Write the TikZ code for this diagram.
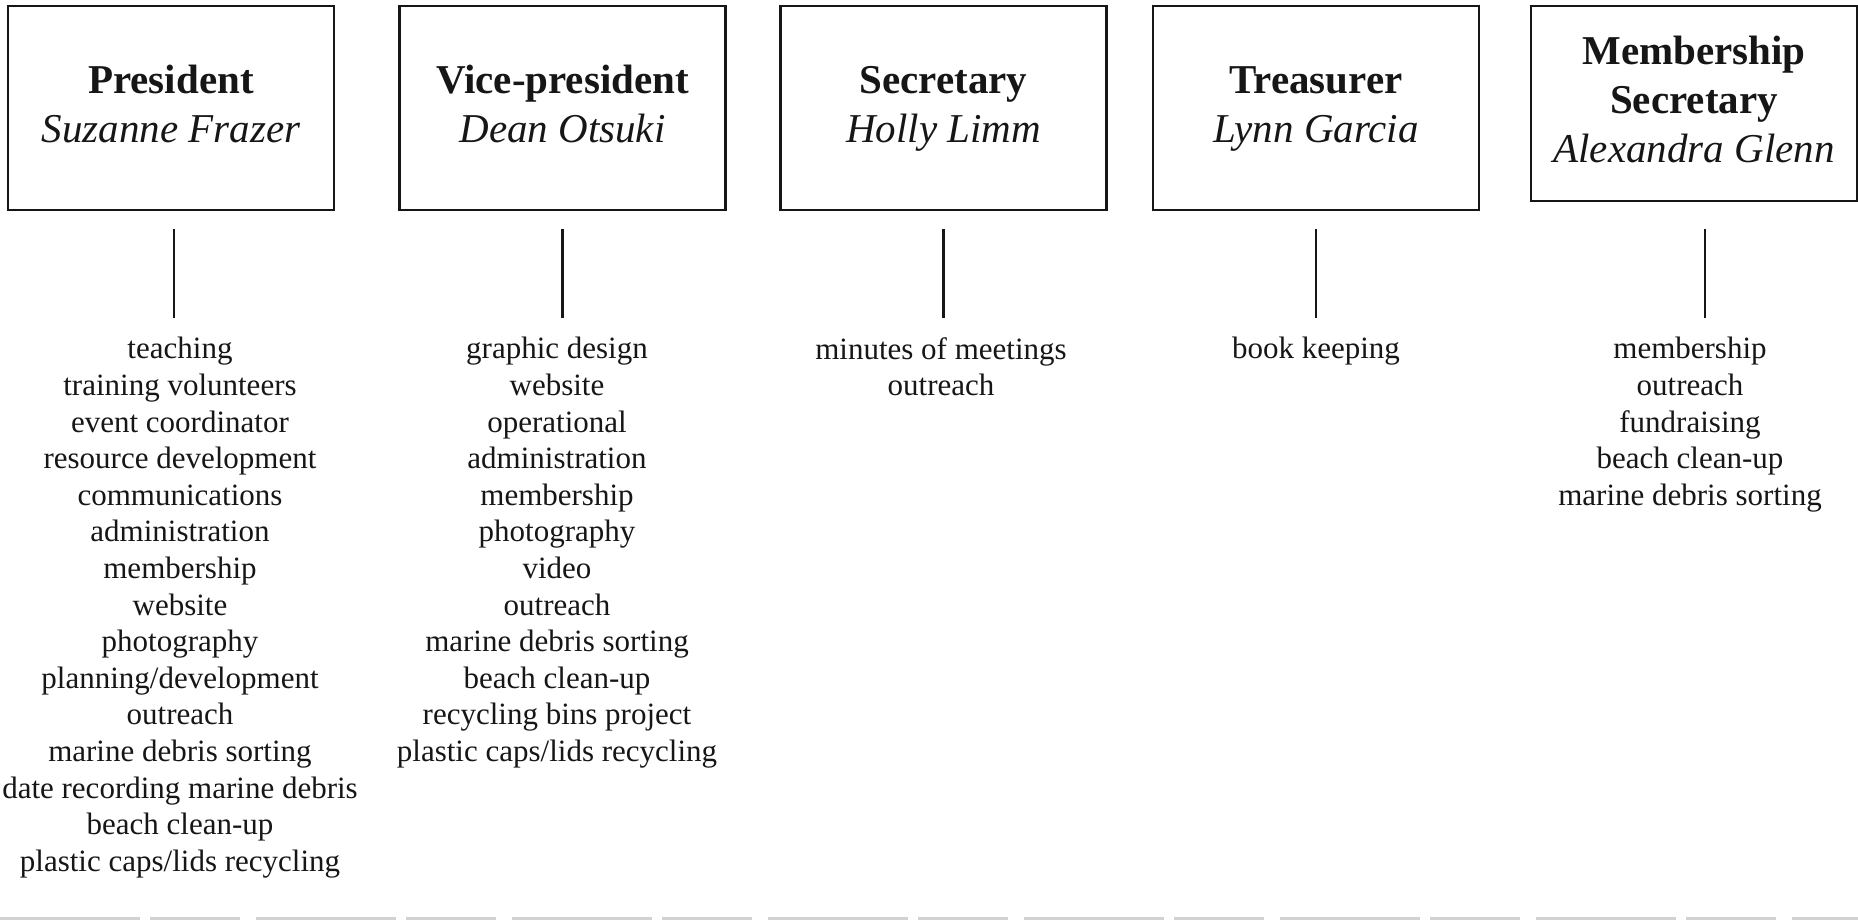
\documentclass[tikz,border=0pt]{standalone}
\usepackage{fontspec}
\setmainfont{Liberation Serif}
\definecolor{ink}{HTML}{161616}
\tikzset{
  officer/.style={draw=ink, line width=1.3pt, minimum width=163pt, minimum height=102pt,
    align=center, inner sep=0pt, text=ink, font=\fontsize{20.5}{24.5}\selectfont},
  duties/.style={anchor=north, align=center, inner sep=0pt, text=ink,
    font=\fontsize{15.5}{18.3}\selectfont},
  tie/.style={draw=ink, line width=1.2pt, shorten <=9pt, shorten >=9.5pt}
}
\begin{document}
\begin{tikzpicture}[x=0.5pt,y=-0.5pt]
\useasboundingbox (0,0) rectangle (1858,921);
% officers
\node[officer] (pres) at (171,108) {\textbf{President}\strut\\\textit{Suzanne Frazer}\strut};
\node[officer] (vice) at (562.5,108) {\textbf{Vice-president}\strut\\\textit{Dean Otsuki}\strut};
\node[officer] (secr) at (943.5,108) {\textbf{Secretary}\strut\\\textit{Holly Limm}\strut};
\node[officer] (treas) at (1316,108) {\textbf{Treasurer}\strut\\\textit{Lynn Garcia}\strut};
\node[officer, minimum height=97.5pt] (msec) at (1694,103.5) {\textbf{Membership}\strut\\\textbf{Secretary}\strut\\\textit{Alexandra Glenn}\strut};
% duties
\node[duties] (presl) at (180,337) {teaching\\training volunteers\\event coordinator\\resource development\\communications\\administration\\membership\\website\\photography\\planning/development\\outreach\\marine debris sorting\\date recording marine debris\\beach clean-up\\plastic caps/lids recycling};
\node[duties] (vicel) at (557,337) {graphic design\\website\\operational\\administration\\membership\\photography\\video\\outreach\\marine debris sorting\\beach clean-up\\recycling bins project\\plastic caps/lids recycling};
\node[duties] (secrl) at (941,337) {minutes of meetings\\outreach};
\node[duties] (treasl) at (1316,337) {book keeping};
\node[duties] (msecl) at (1690,337) {membership\\outreach\\fundraising\\beach clean-up\\marine debris sorting};
% ties
\path[tie] ([xshift=1.5pt]pres.south) edge ([xshift=1.5pt]pres.south |- presl.north)
  (vice.south) edge (vice.south |- vicel.north)
  (secr.south) edge (secr.south |- secrl.north)
  (treas.south) edge (treas.south |- treasl.north)
  ([xshift=5.5pt]msec.south) edge[shorten <=13.5pt] ([xshift=5.5pt]msec.south |- msecl.north);
% scan edge
\draw[gray!35, line width=1.5pt, dash pattern=on 70pt off 5pt on 45pt off 8pt] (0,918) -- (1858,918);
\end{tikzpicture}
\end{document}
